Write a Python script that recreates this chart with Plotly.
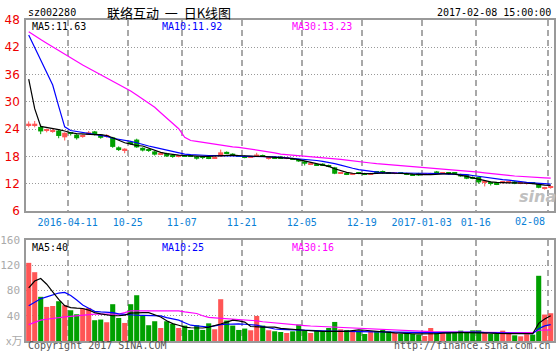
import plotly.graph_objects as go

# ---------------- data ----------------
date_idx = [7, 17, 26, 36, 46, 56, 66, 75, 87]
date_labels = ["2016-04-11", "10-25", "11-07", "11-21", "12-05", "12-19",
               "2017-01-03", "01-16", "02-08"]

open_ = [24.9, 24.9, 24.5, 23.6, 23.5, 23.7, 22.2, 23.2, 22.8, 22.3,
         22.9, 23.5, 22.8, 22.3, 22.2, 20.0, 19.3, 21.2, 21.7, 19.9,
         19.5, 19.1, 18.5, 18.7, 18.1, 17.9, 18.2, 18.2, 18.0, 17.9,
         17.9, 17.6, 18.0, 19.0, 18.6, 18.2, 18.1, 17.8, 18.0, 18.3,
         17.6, 17.9, 18.0, 17.5, 17.6, 17.4, 16.9, 16.2, 16.3, 16.4,
         16.1, 15.6, 14.3, 14.3, 14.0, 14.3, 14.3, 14.1, 14.6, 14.6,
         14.4, 14.2, 14.4, 14.3, 14.1, 14.3, 14.0, 14.1, 14.7, 14.25,
         14.3, 14.3, 14.1, 14.0, 13.5, 13.5, 12.2, 12.4, 12.3, 12.2,
         12.25, 12.5, 12.0, 12.0, 12.1, 12.0, 11.0, 11.2]
high = [25.7, 25.8, 25.0, 24.1, 24.0, 23.9, 23.3, 23.3, 22.9, 22.8,
        23.6, 23.6, 22.9, 22.9, 22.3, 20.2, 19.8, 21.4, 21.9, 20.0,
        19.7, 19.2, 18.9, 18.8, 18.2, 18.2, 18.3, 18.3, 18.1, 18.0,
        18.0, 17.9, 19.5, 19.1, 18.7, 18.3, 18.2, 18.0, 18.8, 18.4,
        17.9, 18.0, 18.1, 17.8, 17.7, 17.5, 17.0, 16.4, 16.4, 16.5,
        16.2, 15.7, 14.4, 14.4, 14.3, 14.4, 14.4, 14.4, 14.7, 14.9,
        14.5, 14.4, 14.5, 14.4, 14.2, 14.4, 14.3, 14.4, 14.8, 14.4,
        14.4, 14.4, 14.2, 14.0, 13.6, 13.5, 12.4, 12.5, 12.4, 12.4,
        12.4, 12.6, 12.2, 12.2, 12.2, 12.1, 11.3, 11.5]
low = [24.4, 24.4, 22.9, 23.3, 23.2, 22.0, 21.5, 22.6, 21.7, 22.1,
       22.8, 22.6, 21.9, 22.1, 19.9, 19.2, 18.7, 20.6, 19.9, 19.1,
       19.0, 18.2, 18.3, 17.9, 17.7, 17.8, 17.9, 17.9, 17.3, 17.4,
       17.4, 17.5, 17.9, 18.5, 18.1, 17.9, 17.6, 17.7, 17.9, 17.9,
       17.3, 17.5, 17.5, 17.4, 17.3, 16.8, 16.0, 16.1, 15.9, 15.9,
       15.6, 14.1, 14.2, 13.9, 13.9, 14.1, 13.9, 14.0, 14.2, 14.2,
       14.2, 14.1, 14.2, 13.9, 13.8, 13.7, 13.9, 14.0, 14.2, 14.2,
       14.0, 14.1, 13.5, 13.0, 13.0, 12.0, 11.4, 11.6, 11.7, 12.0,
       12.1, 11.9, 11.9, 11.8, 11.9, 11.0, 10.7, 10.9]
close = [25.2, 25.2, 23.5, 23.8, 23.7, 22.5, 23.2, 23.0, 22.0, 22.6,
         23.3, 22.8, 22.1, 22.6, 20.1, 19.4, 19.7, 20.8, 20.0, 19.3,
         19.3, 18.4, 18.7, 18.0, 17.9, 18.1, 18.0, 18.0, 17.5, 17.7,
         17.6, 17.8, 18.9, 18.6, 18.2, 18.0, 17.7, 17.9, 18.4, 18.0,
         17.7, 17.6, 17.6, 17.6, 17.4, 16.9, 16.4, 16.3, 16.1, 16.1,
         15.7, 14.2, 14.35, 14.1, 14.1, 14.2, 14.0, 14.3, 14.4, 14.5,
         14.3, 14.3, 14.3, 14.0, 13.9, 13.8, 14.1, 14.3, 14.3, 14.35,
         14.2, 14.2, 13.6, 13.1, 13.1, 12.3, 12.3, 12.0, 11.9, 12.3,
         12.35, 12.0, 12.1, 12.1, 12.0, 11.1, 11.1, 11.3]

ma5 = [35.0, 28.5, 24.6, 24.4, 24.2, 23.9, 23.6, 23.2, 23.0, 22.9,
       22.9, 22.8, 22.8, 22.6, 22.1, 21.5, 21.0, 20.7, 20.4, 20.3,
       19.8, 19.3, 18.9, 18.6, 18.4, 18.3, 18.2, 18.1, 18.1, 18.0,
       18.0, 18.1, 18.2, 18.3, 18.3, 18.2, 18.1, 18.1, 18.0, 18.0,
       17.9, 17.9, 17.8, 17.7, 17.5, 17.3, 17.0, 16.7, 16.4, 16.1,
       15.8, 15.3, 14.9, 14.5, 14.3, 14.2, 14.2, 14.2, 14.3, 14.3,
       14.4, 14.3, 14.3, 14.2, 14.1, 14.0, 14.0, 14.0, 14.1, 14.2,
       14.2, 14.1, 13.9, 13.6, 13.3, 13.0, 12.7, 12.4, 12.3, 12.2,
       12.2, 12.2, 12.2, 12.1, 12.0, 11.8, 11.7, 11.63]
ma10 = [44.7, 42.0, 39.2, 36.5, 33.7, 29.0, 24.5, 23.7, 23.5, 23.3,
        23.1, 22.9, 22.75, 22.4, 22.0, 21.8, 21.5, 21.3, 21.0, 20.6,
        20.3, 20.0, 19.7, 19.4, 19.0, 18.7, 18.5, 18.4, 18.3, 18.3,
        18.2, 18.2, 18.1, 18.1, 18.1, 18.0, 18.0, 18.0, 18.0, 17.9,
        17.9, 17.9, 17.8, 17.7, 17.6, 17.5, 17.4, 17.3, 17.1, 16.9,
        16.7, 16.4, 16.1, 15.7, 15.4, 15.1, 14.9, 14.7, 14.5, 14.4,
        14.4, 14.35, 14.3, 14.3, 14.3, 14.3, 14.3, 14.3, 14.2, 14.2,
        14.1, 14.1, 14.0, 14.0, 13.8, 13.6, 13.4, 13.3, 13.1, 12.9,
        12.8, 12.6, 12.5, 12.3, 12.2, 12.1, 12.0, 11.92]
ma30 = [45.4, 44.5, 43.7, 42.9, 42.1, 41.2, 40.4, 39.6, 38.8, 38.1,
        37.4, 36.7, 36.0, 35.3, 34.6, 33.9, 33.2, 32.4, 31.5, 30.6,
        29.7, 28.8, 27.6, 26.4, 25.3, 24.1, 22.2, 21.5, 21.3, 21.1,
        20.8, 20.6, 20.4, 20.3, 20.1, 20.0, 19.8, 19.7, 19.5, 19.2,
        19.0, 18.8, 18.5, 18.4, 18.2, 18.1, 18.0, 17.9, 17.8, 17.7,
        17.6, 17.5, 17.35, 17.2, 17.0, 16.85, 16.7, 16.55, 16.4, 16.3,
        16.2, 16.1, 16.0, 15.9, 15.8, 15.7, 15.55, 15.4, 15.3, 15.2,
        15.1, 15.0, 14.9, 14.8, 14.7, 14.55, 14.4, 14.3, 14.15, 14.0,
        13.85, 13.7, 13.6, 13.45, 13.4, 13.35, 13.3, 13.23]

volume = [123.8, 109, 70, 54, 55.5, 63, 56.7, 48.7, 42.4, 51.4,
          52.4, 32.9, 34, 29.7, 58.3, 36.5, 28.6, 58.3, 72.5, 39.7,
          25, 31.3, 20.6, 31.3, 27, 20.6, 24.4, 17.5, 25, 17.5,
          28, 18.6, 66.2, 32.4, 24.4, 17.5, 19.7, 17, 39.7, 24.4,
          17, 15.4, 14.3, 12.7, 15.3, 26, 16.4, 12.7, 16.4, 15.3,
          20.6, 30.2, 18.5, 17.5, 15.3, 14.3, 11.1, 15.3, 15.3, 17.5,
          15.3, 12.7, 11.1, 13.2, 11.1, 10.1, 8, 20.6, 13.2, 14.3,
          13.2, 13.2, 16.4, 13.2, 16.9, 16.9, 14.3, 11.1, 11.1, 16.4,
          13.2, 9, 7.4, 10.6, 10.1, 103.3, 41.9, 44]
vma5 = [84, 95, 99, 90, 78, 66, 56, 53, 52, 51.5,
        49, 45, 43, 41, 40, 40, 41, 44, 45, 45,
        45, 42, 38, 32, 27.5, 25, 22, 21, 21, 20.6,
        22, 24, 27, 30, 33, 32, 30, 23, 22, 22,
        22, 22, 20, 19, 18, 17, 17, 16.5, 15.5, 15.3,
        15.3, 15.3, 15.3, 15.3, 16.5, 17.5, 17, 16, 15.3, 14.5,
        13.5, 13, 12.5, 11.6, 11.5, 11.3, 11.1, 11.1, 11.5, 12.5,
        13, 13.2, 13.2, 13.2, 13.2, 13.2, 12.8, 12.4, 12.0, 11.6,
        11.6, 11.6, 11.6, 11.6, 11.6, 28, 35, 40]
vma10 = [56, 62, 67, 70, 73, 76, 77, 72, 65, 57,
         52, 47, 46, 45.5, 45, 43, 42, 41, 40.8, 40.5,
         40, 40, 39.7, 37, 35, 33, 29, 25, 24, 23,
         22.2, 24, 26, 26.5, 27, 27, 26.5, 26, 25, 23,
         21, 19, 18.5, 18, 17.5, 17.2, 17, 16.9, 16.5, 16,
         15.8, 15.5, 15.3, 15.3, 15, 14.8, 14.5, 14.3, 14.3, 14.3,
         14, 13.8, 13.5, 13.3, 13.2, 13.2, 13.2, 13.2, 13.3, 13.5,
         13.8, 14, 14.3, 14.3, 14.3, 14, 13.5, 13.2, 13.2, 13.2,
         12.8, 12.4, 12, 11.6, 11.6, 19.5, 24, 26]
vma30 = [26, 30, 33, 34.5, 36, 37, 38.2, 39, 40, 41,
         42, 42.5, 42.5, 42.5, 42.5, 42.5, 45, 47.8, 47.8, 47.8,
         47.8, 47.8, 47.8, 47.8, 47.8, 47.8, 46, 45, 43.6, 40,
         37.3, 36.5, 36, 35.7, 35, 34, 33, 32.5, 32, 30.5,
         29.5, 28.5, 27.5, 26.5, 25.5, 24.9, 24.5, 23.8, 23.3, 22.8,
         22.2, 21.7, 21, 20.6, 20.2, 19.8, 19.3, 18.9, 18.5, 18,
         17.5, 17, 16.5, 15.8, 15.3, 15.1, 14.9, 14.7, 14.5, 14.3,
         14.2, 14.1, 14, 13.9, 13.8, 13.7, 13.6, 13.5, 13.4, 13.3,
         13.2, 13.2, 13.2, 13.2, 13.2, 17, 17.3, 17.5]

price_ticks = [6, 12, 18, 24, 30, 36, 42, 48]
vol_ticks = [40, 80, 120, 160]

# ---------------- styling ----------------
W, H = 559, 356
L, R, T, B = 26, 5, 20, 15
PW, PH = W - L - R, H - T - B
MONO = "DejaVu Sans Mono"
RED, GREEN = "#ff5555", "#00a000"
GRID = "#a8a8a8"
DATE_BLUE = "#0a7fd6"


def xp(px):
    return (px - L) / PW


def yp(py):
    return (H - B - py) / PH


N = len(close)
idx = list(range(N))
up = [c >= o for o, c in zip(open_, close)]
colors = [RED if u else GREEN for u in up]
body_base = [min(o, c) for o, c in zip(open_, close)]
body_h = [max(abs(c - o), 0.22) for o, c in zip(open_, close)]

wx = {True: [], False: []}
wy = {True: [], False: []}
for i, (h, l, u) in enumerate(zip(high, low, up)):
    wx[u] += [i, i, None]
    wy[u] += [l, h, None]

fig = go.Figure()
for u, col in ((True, RED), (False, GREEN)):
    fig.add_trace(go.Scatter(x=wx[u], y=wy[u], mode="lines",
                             line=dict(color=col, width=1),
                             xaxis="x", yaxis="y", hoverinfo="skip"))
fig.add_trace(go.Bar(x=idx, y=body_h, base=body_base, width=0.85,
                     marker=dict(color=colors, line=dict(width=0)),
                     xaxis="x", yaxis="y"))
for ser, col in ((ma30, "#ff00ff"), (ma10, "#0000ff"), (ma5, "#000000")):
    fig.add_trace(go.Scatter(x=idx, y=ser, mode="lines",
                             line=dict(color=col, width=1.2),
                             xaxis="x", yaxis="y"))

fig.add_trace(go.Bar(x=idx, y=volume, width=0.85,
                     marker=dict(color=colors, line=dict(width=0)),
                     xaxis="x2", yaxis="y2"))
for ser, col in ((vma30, "#ff00ff"), (vma10, "#0000ff"), (vma5, "#000000")):
    fig.add_trace(go.Scatter(x=idx, y=ser, mode="lines",
                             line=dict(color=col, width=1.2),
                             xaxis="x2", yaxis="y2"))

xr = [-0.45, N - 0.45]
grid_x = [d - 0.5 for d in date_idx]
# last label does not fit centred on its line; it is drawn shifted left
axis_text = date_labels[:-1] + [""]
xcommon = dict(range=xr, tickvals=grid_x, showgrid=True, gridcolor=GRID,
               gridwidth=1.5, griddash="6px,4px", showline=True,
               linecolor="#999999", linewidth=1.5, mirror=True, ticks="",
               zeroline=False, fixedrange=True, automargin=False)
ycommon = dict(showgrid=True, gridcolor="#999999", gridwidth=1,
               griddash="1px,2px", showline=True, linecolor="#999999",
               linewidth=1.5, mirror=True, ticks="", zeroline=False,
               fixedrange=True, automargin=False, ticklabelstandoff=2)

fig.update_layout(
    width=W, height=H,
    margin=dict(l=L, r=R, t=T, b=B, pad=0, autoexpand=False),
    paper_bgcolor="white", plot_bgcolor="white",
    showlegend=False, barmode="overlay",
    font=dict(family=MONO, size=10, color="#000"),
    xaxis=dict(domain=[0, 1], anchor="y", ticktext=axis_text,
               tickfont=dict(family=MONO, size=10, color=DATE_BLUE),
               ticklabelstandoff=1, **xcommon),
    xaxis2=dict(domain=[0, 1], anchor="y2", showticklabels=False,
                **xcommon),
    yaxis=dict(domain=[yp(211), 1], range=[6, 48], tickvals=price_ticks,
               tickfont=dict(family="DejaVu Sans", size=12, color="#ee0000"),
               **ycommon),
    yaxis2=dict(domain=[0, yp(240)], range=[0, 160], tickvals=vol_ticks,
                tickfont=dict(family=MONO, size=11, color="#aaaaaa"),
                **ycommon),
)

ann = []


def text(s, px, py, color="#000", size=10, anchor="left", family=MONO):
    ann.append(dict(text=s, x=xp(px), y=yp(py), xref="paper", yref="paper",
                    xanchor=anchor, yanchor="middle", showarrow=False,
                    font=dict(family=family, size=size, color=color)))


NB = "\u00a0"
text("sz002280", 26, 12)
text("联络互动" + NB * 2 + "一" + NB * 2 + "日K线图", 169, 12, size=13,
     anchor="center", family="Noto Sans CJK SC")
text("2017-02-08 15:00:00", 553, 12, anchor="right")
text("MA5:%.2f" % ma5[-1], 30, 26)
text("MA10:%.2f" % ma10[-1], 160, 26, color="#0000ff")
text("MA30:%.2f" % ma30[-1], 290, 26, color="#ff00ff")
text("MA5:40", 30, 247)
text("MA10:25", 160, 247, color="#0000ff")
text("MA30:16", 290, 247, color="#ff00ff")
text(date_labels[-1], 547, 221, color=DATE_BLUE, anchor="right")
text("x万", 4, 340, color="#aaaaaa", size=11, family="Noto Sans CJK SC")
text("Copyright 2017 SINA.COM", 26, 346, color="#555555")
text("http://finance.sina.com.cn", 553, 346, color="#555555", anchor="right")
text("<b><i>sina</i></b>", 537, 196, color="#c0c0c0", size=16,
     anchor="center", family="DejaVu Sans")
fig.update_layout(annotations=ann)

fig.write_html("out.html", config={"displayModeBar": False},
               post_script="document.body.style.margin='0';"
                           "document.body.style.overflow='hidden';")
